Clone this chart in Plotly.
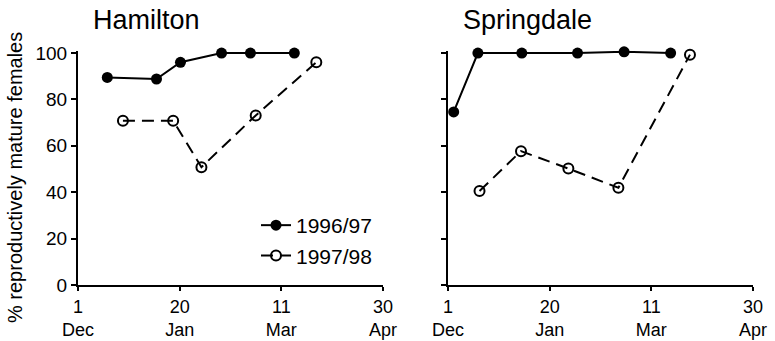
import plotly.graph_objects as go

# days since 1 December
tick_days = [0, 50, 100, 150]
tick_labels = ["1<br>Dec", "20<br>Jan", "11<br>Mar", "30<br>Apr"]
y_ticks = [0, 20, 40, 60, 80, 100]

ham_9697_day = [14.4, 38.6, 50.4, 70.6, 84.8, 106.4]
ham_9697_pct = [89.5, 88.8, 96.0, 100.0, 100.0, 100.0]
ham_9798_day = [22.1, 46.8, 60.7, 87.4, 117.2]
ham_9798_pct = [70.8, 70.8, 50.8, 73.1, 96.0]

spr_9697_day = [2.8, 14.7, 36.3, 63.7, 86.6, 109.5]
spr_9697_pct = [74.6, 100.0, 100.0, 100.0, 100.5, 100.0]
spr_9798_day = [15.5, 35.9, 59.2, 83.8, 119.0]
spr_9798_pct = [40.5, 57.7, 50.2, 41.9, 99.3]

W, H = 775, 341
FONT = "Liberation Sans, Arial, Helvetica, sans-serif"

def px_x(p):
    return p / W

def px_y(p):
    return (H - p) / H

fig = go.Figure()

solid = dict(mode="lines+markers", line=dict(color="black", width=2),
             marker=dict(symbol="circle", size=11, color="black"), cliponaxis=False)
dashed = dict(mode="lines+markers", line=dict(color="black", width=2, dash="12px,7px"),
              marker=dict(symbol="circle-open", size=10, color="black", line=dict(width=2)),
              cliponaxis=False)

fig.add_trace(go.Scatter(x=ham_9697_day, y=ham_9697_pct, name="1996/97", xaxis="x", yaxis="y", **solid))
fig.add_trace(go.Scatter(x=ham_9798_day, y=ham_9798_pct, name="1997/98", xaxis="x", yaxis="y", **dashed))
fig.add_trace(go.Scatter(x=spr_9697_day, y=spr_9697_pct, name="1996/97", xaxis="x2", yaxis="y2",
                         showlegend=False, **solid))
fig.add_trace(go.Scatter(x=spr_9798_day, y=spr_9798_pct, name="1997/98", xaxis="x2", yaxis="y2",
                         showlegend=False, **dashed))

xcommon = dict(range=[0, 150], tickvals=tick_days, ticktext=tick_labels, showline=True,
               linecolor="black", linewidth=2, ticks="outside", ticklen=4, tickwidth=2,
               tickcolor="black", showgrid=False, zeroline=False, automargin=False,
               tickfont=dict(family=FONT, size=18, color="black"))
ycommon = dict(range=[0, 101], tickvals=y_ticks, showline=True, linecolor="black", linewidth=2,
               ticks="outside", ticklen=5, tickwidth=2, tickcolor="black", showgrid=False,
               zeroline=False, automargin=False,
               tickfont=dict(family=FONT, size=19, color="black"))

ydom = [px_y(285), px_y(50.7)]
fig.update_layout(
    width=W, height=H,
    margin=dict(l=0, r=0, t=0, b=0, autoexpand=False),
    paper_bgcolor="white", plot_bgcolor="white",
    font=dict(family=FONT, color="black"),
    hovermode=False,
    xaxis=dict(domain=[px_x(78), px_x(383)], anchor="y", **xcommon),
    yaxis=dict(domain=ydom, anchor="x", showticklabels=True, **ycommon),
    xaxis2=dict(domain=[px_x(448), px_x(753)], anchor="y2", **xcommon),
    yaxis2=dict(domain=ydom, anchor="x2", showticklabels=False, **ycommon),
    showlegend=True,
    legend=dict(x=px_x(256), y=px_y(205), xanchor="left", yanchor="top",
                font=dict(family=FONT, size=21, color="black"),
                bgcolor="rgba(0,0,0,0)", tracegroupgap=0),
    annotations=[
        dict(text="Hamilton", x=px_x(92), y=px_y(4), xref="paper", yref="paper",
             xanchor="left", yanchor="top", showarrow=False, borderpad=0,
             font=dict(family=FONT, size=27, color="black")),
        dict(text="Springdale", x=px_x(462), y=px_y(4), xref="paper", yref="paper",
             xanchor="left", yanchor="top", showarrow=False, borderpad=0,
             font=dict(family=FONT, size=27, color="black")),
        dict(text="% reproductively mature females", x=px_x(15), y=px_y(178),
             xref="paper", yref="paper", xanchor="center", yanchor="middle",
             textangle=-90, showarrow=False, borderpad=0,
             font=dict(family=FONT, size=20, color="black")),
    ],
)

fig.write_html("out.html", config={"displayModeBar": False},
               post_script="document.body.style.margin='0px';")
